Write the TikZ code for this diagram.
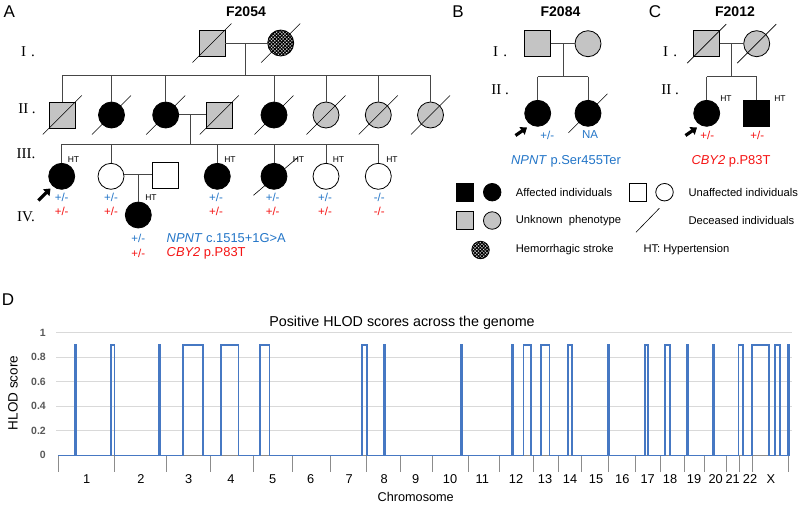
\documentclass[tikz,border=0pt]{standalone}
\usepackage{fontspec}
\setmainfont{Liberation Sans}
\newfontfamily\romanfont{Liberation Serif}
\usetikzlibrary{patterns.meta,arrows.meta}
\definecolor{gtblue}{RGB}{36,118,200}
\definecolor{gtred}{RGB}{245,20,20}
\definecolor{unkgray}{RGB}{196,196,196}
\definecolor{plotblue}{RGB}{70,120,195}
\definecolor{linegray}{RGB}{70,70,70}
\definecolor{gridgray}{RGB}{217,217,217}
\definecolor{axisgray}{RGB}{140,140,140}
\definecolor{ticklabel}{RGB}{89,89,89}
\newcommand\deceasedmark[1]{\draw[dec] ([shift={(-19.5,19.5)}]#1.center) -- ([shift={(19.5,-19.5)}]#1.center);}
\begin{document}
\begin{tikzpicture}[x=1pt,y=-1pt,
  ind/.style={draw=black,line width=0.8pt,minimum size=26pt,inner sep=0pt,outer sep=0pt},
  sq/.style={ind,rectangle},
  ci/.style={ind,circle},
  aff/.style={fill=black},
  unk/.style={fill=unkgray},
  una/.style={fill=white},
  strokefill/.style={fill=unkgray!50,postaction={pattern={Hatch[angle=45,distance=2.4pt,line width=1pt]}}},
  small/.style={minimum size=17.5pt},
  lnk/.style={draw=linegray,line width=0.75pt},
  dec/.style={draw=black,line width=0.6pt},
  htlab/.style={font=\fontsize{8.5}{9}\selectfont,inner sep=0pt},
  gtb/.style={font=\fontsize{11.5}{12}\selectfont,text=gtblue,inner sep=0pt},
  gtr/.style={font=\fontsize{11.5}{12}\selectfont,text=gtred,inner sep=0pt},
  var/.style={font=\fontsize{12.9}{14}\selectfont,inner sep=0pt},
  gen/.style={font=\romanfont\fontsize{15}{15}\selectfont,inner sep=0pt},
  panel/.style={font=\fontsize{17}{18}\selectfont,inner sep=0pt},
  fam/.style={font=\bfseries\fontsize{14}{15}\selectfont,inner sep=0pt},
  leg/.style={font=\fontsize{11.2}{12}\selectfont,inner sep=0pt,anchor=west},
  proband/.style={-{Triangle[width=9pt,length=6pt]},line width=3.2pt,black},
  chrlab/.style={font=\fontsize{12.8}{13}\selectfont,inner sep=0pt},
  ylab/.style={font=\bfseries\fontsize{10.5}{11}\selectfont,text=ticklabel,inner sep=0pt,anchor=east},
  dataline/.style={draw=plotblue,line width=1.6pt,line join=miter},
]
\useasboundingbox[fill=white] (0,0) rectangle (800,504);

% ---------------- Panel labels ----------------
\node[panel] (pA) at (9.2,11.7) {A};
\node[panel] (pB) at (458,11.7) {B};
\node[panel] (pC) at (655,11.7) {C};
\node[panel] (pD) at (8,300) {D};
\node[fam] (fA) at (246,11.7) {F2054};
\node[fam] (fB) at (560.5,11.7) {F2084};
\node[fam] (fC) at (735,11.7) {F2012};

% ---------------- Pedigree A ----------------
\node[gen] (gAI) at (28,51.5) {I\hspace{0.35em}.};
\node[gen] (gAII) at (27,108.5) {II\hspace{0.25em}.};
\node[gen] (gAIII) at (26,153.5) {III.};
\node[gen] (gAIV) at (26,216.5) {IV.};

\node[sq,unk] (a11) at (212,43) {};
\node[ci,strokefill] (a12) at (280.7,43) {};
\deceasedmark{a11}
\deceasedmark{a12}
\coordinate (aI) at (245.7,43);
\coordinate (aS) at (245.7,75);
\draw[lnk] (a11.east) -- (a12.west);
\draw[lnk] (aI) -- (aS);

\node[sq,unk] (a21) at (62.3,115) {};
\node[ci,aff] (a22) at (111.5,115) {};
\node[ci,aff] (a23) at (165.7,115) {};
\node[sq,unk] (a24) at (219.3,115) {};
\node[ci,aff] (a25) at (274,115) {};
\node[ci,unk] (a26) at (326,115) {};
\node[ci,unk] (a27) at (378.3,115) {};
\node[ci,unk] (a28) at (430.5,115) {};
\foreach \n in {a21,a22,a23,a24,a25,a26,a27,a28} {\deceasedmark{\n}}
\draw[lnk] (a21.north |- aS) -- (a28.north |- aS);
\foreach \n in {a21,a22,a23,a25,a26,a27,a28} {\draw[lnk] (\n.north |- aS) -- (\n.north);}

\coordinate (aII) at (190.7,114);
\coordinate (aS3) at (190.7,144.3);
\draw[lnk] (a23.east |- aII) -- (a24.west |- aII);
\draw[lnk] (aII) -- (aS3);

\node[ci,aff] (a31) at (61.7,176.3) {};
\node[ci,una] (a32) at (111,176.3) {};
\node[sq,una] (a33) at (165.3,175.3) {};
\node[ci,aff] (a34) at (217.3,176.3) {};
\node[ci,aff] (a35) at (274,176.3) {};
\node[ci,una] (a36) at (326,176.3) {};
\node[ci,una] (a37) at (378.3,176.3) {};
\draw[dec] ([shift={(-20.5,19)}]a35.center) -- ([shift={(24,-19)}]a35.center);
\draw[lnk] (a31.north |- aS3) -- (a37.north |- aS3);
\foreach \n in {a31,a32,a34,a35,a36,a37} {\draw[lnk] (\n.north |- aS3) -- (\n.north);}

\coordinate (aIII) at (138.3,174);
\draw[lnk] (a32.east |- aIII) -- (a33.west |- aIII);
\node[ci,aff] (a41) at (138.3,215) {};
\draw[lnk] (aIII) -- (a41.north);

\coordinate (pa1) at (38.3,200.5);
\coordinate (pa2) at (50.5,188.5);
\draw[proband] (pa1) -- (pa2);

\node[htlab] (h31) at (73.5,159.3) {HT};
\node[htlab] (h34) at (230,159.3) {HT};
\node[htlab] (h35) at (298.5,159.3) {HT};
\node[htlab] (h36) at (338.5,159.3) {HT};
\node[htlab] (h37) at (392,159.3) {HT};
\node[htlab] (h41) at (151,197.7) {HT};

\node[gtb] (b31) at (61.7,197.3) {+/-};
\node[gtr] (r31) at (61.7,211) {+/-};
\node[gtb] (b32) at (111,197.3) {+/-};
\node[gtr] (r32) at (111,211) {+/-};
\node[gtb] (b34) at (216,197.3) {+/-};
\node[gtr] (r34) at (216,211) {+/-};
\node[gtb] (b35) at (272.7,197.3) {+/-};
\node[gtr] (r35) at (272.7,211) {+/-};
\node[gtb] (b36) at (325,197.3) {+/-};
\node[gtr] (r36) at (325,211) {+/-};
\node[gtb] (b37) at (379.3,197.3) {-/-};
\node[gtr] (r37) at (379.3,211) {-/-};
\node[gtb] (b41) at (138.3,238.3) {+/-};
\node[gtr] (r41) at (138.3,253.3) {+/-};
\node[var,text=gtblue,anchor=west] (vA1) at (166.5,238.3) {\textit{NPNT} c.1515+1G>A};
\node[var,text=gtred,anchor=west] (vA2) at (166.5,253.3) {\textit{CBY2} p.P83T};

% ---------------- Pedigree B ----------------
\node[gen] (gBI) at (500,51.7) {I\hspace{0.35em}.};
\node[gen] (gBII) at (500,90) {II\hspace{0.25em}.};
\node[sq,unk] (b11) at (537.7,43.7) {};
\node[ci,unk] (b12) at (588,43.7) {};
\coordinate (bI) at (563.3,43.7);
\coordinate (bS) at (563.3,76.7);
\draw[lnk] (b11.east) -- (b12.west);
\draw[lnk] (bI) -- (bS);
\node[ci,aff] (b21) at (537.7,113.3) {};
\node[ci,aff] (b22) at (588,113.3) {};
\deceasedmark{b22}
\draw[lnk] (b21.north |- bS) -- (b22.north |- bS);
\draw[lnk] (b21.north |- bS) -- (b21.north);
\draw[lnk] (b22.north |- bS) -- (b22.north);
\coordinate (pb1) at (515.5,135.5);
\coordinate (pb2) at (527,127.5);
\draw[proband] (pb1) -- (pb2);
\node[gtb] (bb21) at (547.3,135) {+/-};
\node[gtb] (bb22) at (590,135) {NA};
\node[var,text=gtblue] (vB) at (566,161.7) {\textit{NPNT} p.Ser455Ter};

% ---------------- Pedigree C ----------------
\node[gen] (gCI) at (670,51.7) {I\hspace{0.35em}.};
\node[gen] (gCII) at (670,90) {II\hspace{0.25em}.};
\node[sq,unk] (c11) at (706.7,43.7) {};
\node[ci,unk] (c12) at (756.7,43.7) {};
\deceasedmark{c11}
\deceasedmark{c12}
\coordinate (cI) at (731.7,43.7);
\coordinate (cS) at (731.7,76.7);
\draw[lnk] (c11.east) -- (c12.west);
\draw[lnk] (cI) -- (cS);
\node[ci,aff] (c21) at (706.7,113.3) {};
\node[sq,aff] (c22) at (756.7,113.3) {};
\draw[lnk] (c21.north |- cS) -- (c22.north |- cS);
\draw[lnk] (c21.north |- cS) -- (c21.north);
\draw[lnk] (c22.north |- cS) -- (c22.north);
\coordinate (pc1) at (685.5,135.5);
\coordinate (pc2) at (697,127.5);
\draw[proband] (pc1) -- (pc2);
\node[htlab] (hc21) at (726,98.3) {HT};
\node[htlab] (hc22) at (780,98.3) {HT};
\node[gtr] (rc21) at (707.3,135) {+/-};
\node[gtr] (rc22) at (757.3,135) {+/-};
\node[var,text=gtred] (vC) at (731,161.7) {\textit{CBY2} p.P83T};

% ---------------- Legend ----------------
\node[sq,aff,small] (l1) at (464.7,192.2) {};
\node[ci,aff,small] (l2) at (492.2,192.2) {};
\node[leg] (lt1) at (515.7,192.7) {Affected individuals};
\node[sq,una,small] (l3) at (637.8,192.2) {};
\node[ci,una,small] (l4) at (664.5,192.2) {};
\node[leg] (lt2) at (688.3,192.7) {Unaffected individuals};
\node[sq,unk,small] (l5) at (464.7,220.5) {};
\node[ci,unk,small] (l6) at (492.2,220.5) {};
\node[leg] (lt3) at (515.7,220.7) {Unknown\ \ phenotype};
\coordinate (ld1) at (636,232.3);
\coordinate (ld2) at (659.3,208.3);
\draw[dec] (ld1) -- (ld2);
\node[leg] (lt4) at (688.3,220.7) {Deceased individuals};
\node[ci,strokefill,small] (l7) at (480.5,250) {};
\node[leg] (lt5) at (515.7,250) {Hemorrhagic stroke};
\node[leg] (lt6) at (643.3,250) {HT: Hypertension};

% ---------------- Chart D ----------------
\node[font=\fontsize{14.3}{15}\selectfont,inner sep=0pt] (title) at (402,323) {Positive HLOD scores across the genome};
\foreach \yy in {332.4,357.0,381.6,406.1,430.7} {\draw[gridgray,line width=0.8pt] (56,\yy) -- (792,\yy);}
\node[ylab] (y1) at (46,332.4) {1};
\node[ylab] (y08) at (46,357.0) {0.8};
\node[ylab] (y06) at (46,381.6) {0.6};
\node[ylab] (y04) at (46,406.1) {0.4};
\node[ylab] (y02) at (46,430.7) {0.2};
\node[ylab] (y00) at (46,455.3) {0};
\node[font=\fontsize{13.5}{14}\selectfont,inner sep=0pt,rotate=90] (ytitle) at (13,393) {HLOD score};
\draw[axisgray,line width=1.2pt] (58,455.3) -- (790,455.3);
\foreach \t in {58.3,114.3,166.7,210.7,253,292.3,330.3,366.7,400,432.3,468.3,499.3,533.3,558.3,581.3,608.7,635.7,660.7,684,704.7,726.7,739.3,752.7,788.3}
  {\draw[axisgray,line width=0.8pt] (\t,455.3) -- (\t,471.7);}
\draw[dataline] (58.3,455.3)
  foreach \a/\b in {74.5/76,111/114.5,158.5/159.7,183/203,221/238.5,260/269.3,362/367,384/385.2,460.8/461.8,511.8/512.8,523.3/530.7,541/549.3,568/572,607.3/609,645/648,665/670,686.8/687.8,712.7/714,738.3/742.7,752/769,775/780,787.5/788.7}
  { -- (\a,455.3) -- (\a,344.7) -- (\b,344.7) -- (\b,455.3) } -- (790,455.3);
\foreach \p/\l in {86.7/1,141/2,188.7/3,231/4,272.7/5,310.7/6,349.3/7,384.3/8,415.7/9,450/10,482.3/11,516/12,545/13,570/14,596/15,622.3/16,647.7/17,670/18,694/19,715.7/20,732.7/21,750/22,771/X}
  {\node[chrlab] (chr\l) at (\p,479) {\l};}
\node[font=\fontsize{12.7}{13}\selectfont,inner sep=0pt] (xtitle) at (415.7,497.3) {Chromosome};
\end{tikzpicture}
\end{document}
